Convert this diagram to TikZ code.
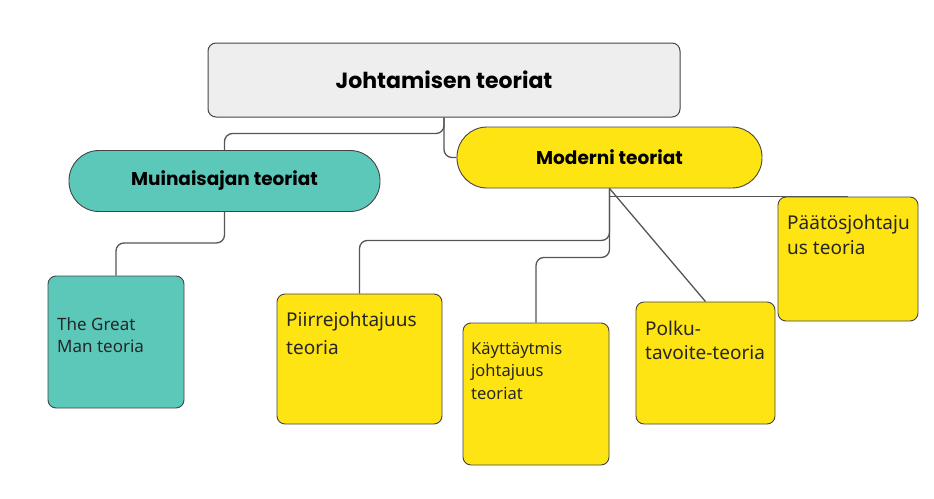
\documentclass[tikz,border=0pt]{standalone}
\usepackage{fontspec}
\setmainfont{Noto Sans}
\newfontfamily\headfont{Poppins}
\definecolor{teal1}{HTML}{5BC8BA}
\definecolor{yel1}{HTML}{FFE414}
\definecolor{grey1}{HTML}{EEEEEE}
\definecolor{edge1}{HTML}{444444}
\definecolor{line1}{HTML}{555555}
\tikzset{
  topbox/.style={draw=edge1, line width=1pt, fill=grey1, rounded corners=8pt, inner sep=0pt,
    minimum width=472pt, minimum height=74pt, font=\headfont\bfseries\fontsize{22}{26}\selectfont},
  pill/.style={draw=edge1, line width=0.9pt, rounded corners=30pt, inner sep=0pt,
    minimum height=61pt, font=\headfont\bfseries\fontsize{18.5}{22}\selectfont},
  leaf/.style={draw=edge1, line width=0.9pt, rounded corners=8pt, inner sep=0pt},
  leaftext/.style={anchor=north west, inner sep=0pt, align=left, text=black!85},
  conn/.style={draw=line1, line width=1.3pt, rounded corners=8pt},
}
\begin{document}
\begin{tikzpicture}[x=1pt,y=-1pt]
\useasboundingbox (0,0) rectangle (934,498);
\node[topbox] (top) at (444,80) {Johtamisen teoriat};
\node[pill, fill=teal1, minimum width=311pt] (teal) at (224.5,181) {Muinaisajan teoriat};
\node[pill, fill=yel1, minimum width=305pt] (yellow) at (609.5,157.5) {Moderni teoriat};

\node[leaf, fill=teal1, minimum width=136pt, minimum height=132pt] (gm) at (116,342) {};
\node[leaf, fill=yel1, minimum width=165pt, minimum height=130pt] (piirre) at (359.5,359) {};
\node[leaf, fill=yel1, minimum width=146pt, minimum height=142pt] (kayt) at (536,394) {};
\node[leaf, fill=yel1, minimum width=139pt, minimum height=122pt] (polku) at (705.5,363) {};
\node[leaf, fill=yel1, minimum width=140pt, minimum height=124pt] (paatos) at (848,259) {};

\node[leaftext, font=\fontsize{17}{22}\selectfont] (gmt) at (57,317) {The Great\\Man teoria};
\node[leaftext, font=\fontsize{19}{28}\selectfont] (piirret) at (286,312) {Piirrejohtajuus\\teoria};
\node[leaftext, font=\fontsize{16.5}{22.5}\selectfont\bfseries] (kaytt) at (471,342) {Käyttäytmis\\johtajuus\\teoriat};
\node[leaftext, font=\fontsize{19}{24}\selectfont] (polkut) at (645,321) {Polku-\\tavoite-teoria};
\node[leaftext, font=\fontsize{19}{25}\selectfont] (paatost) at (787,215) {Päätösjohtaju\\us teoria};

\draw[conn] (top.south) -- ++(0,16) -| (teal.north);
\draw[conn] (top.south) |- (yellow.west);
\draw[conn] (teal.south) -- ++(0,31) -| (gm.north);
\draw[conn] (yellow.south) -- ++(0,52) -| (piirre.north);
\draw[conn] (yellow.south) -- ++(0,69) -| (kayt.north);
\draw[conn] (yellow.south) -- (polku.north);
\draw[conn, rounded corners=0pt] (yellow.south) |- (paatos.north);
\end{tikzpicture}
\end{document}
